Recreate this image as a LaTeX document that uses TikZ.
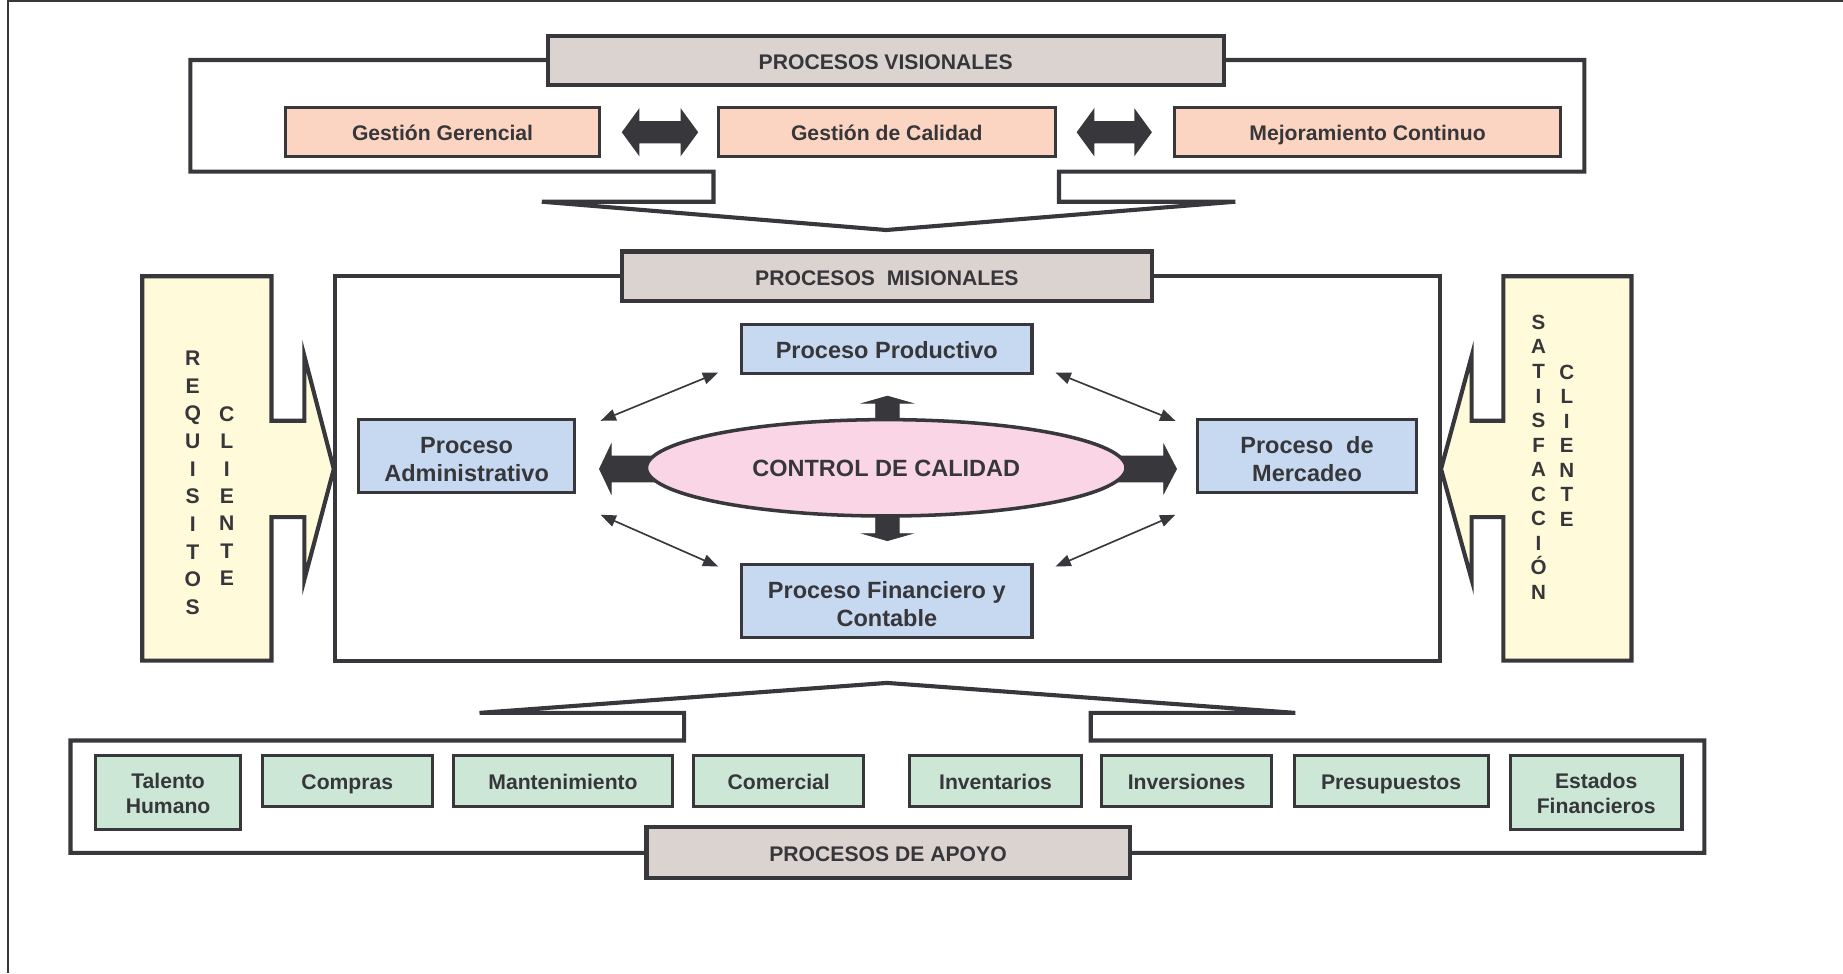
\documentclass[tikz,border=0pt]{standalone}
\usepackage{fontspec}
\setmainfont{Liberation Sans}
\usetikzlibrary{arrows.meta,shapes.geometric}

\definecolor{ink}{RGB}{56,56,60}
\definecolor{txt}{RGB}{55,55,59}
\definecolor{hdrfill}{RGB}{218,211,207}
\definecolor{peach}{RGB}{251,213,194}
\definecolor{sky}{RGB}{198,217,240}
\definecolor{mint}{RGB}{204,231,214}
\definecolor{cream}{RGB}{255,250,218}
\definecolor{rose}{RGB}{249,213,229}

% invisible rule that opens a little room above the first line of a box
\newcommand\firstlinegap[1]{\rule{0pt}{#1}}

\tikzset{
  base/.style={draw=ink, text=txt, inner sep=0pt, align=center},
  capsline/.style={text height=16pt, text depth=0pt},
  oneline/.style={text height=14.2pt, text depth=0pt},
  onelinebig/.style={text height=15.6pt, text depth=0pt},
  header/.style={base, capsline, fill=hdrfill, line width=3.5pt,
    font=\fontsize{18}{22}\selectfont\bfseries},
  visbox/.style={base, oneline, fill=peach, line width=2.6pt, minimum height=42pt,
    font=\fontsize{18}{22}\selectfont\bfseries},
  misbox/.style={base, fill=sky, line width=2.6pt,
    font=\fontsize{20}{24}\selectfont\bfseries},
  apobox/.style={base, fill=mint, line width=2.6pt,
    font=\fontsize{18}{21.5}\selectfont\bfseries},
  frameline/.style={draw=ink, line width=3.5pt, fill=white},
  sidearrow/.style={draw=ink, line width=3.5pt, fill=cream},
  blockarrow/.style={fill=ink, draw=ink, line width=0.6pt},
  thinlink/.style={draw=ink, line width=1.4pt,
    {Triangle[length=13pt,width=10pt]}-{Triangle[length=13pt,width=10pt]}},
  letters/.style={text=txt, inner sep=0pt, align=center},
}

\begin{document}
\begin{tikzpicture}[x=1pt,y=-1pt]
\useasboundingbox (0,0) rectangle (1568,828);

% page edge
\draw[ink, line width=2pt] (6.7,828) -- (6.7,0.3) -- (1568,0.3);

% ---------- visionary processes ----------
\draw[frameline] (162,51) -- (1348,51) -- (1348,146) -- (901,146) -- (901,171.6)
  -- (1051,171.6) -- (754,195.7) -- (461,171.6) -- (607,171.6) -- (607,146)
  -- (162,146) -- cycle;
\node[header, minimum width=575pt, minimum height=42pt] (vis) at (753.5,51.5)
  {PROCESOS VISIONALES};

\node[visbox, minimum width=267pt] (gg) at (376.5,112.5) {Gestión Gerencial};
\node[visbox, minimum width=287pt] (gc) at (754.5,112.5) {Gestión de Calidad};
\node[visbox, minimum width=329pt] (mc) at (1163.5,112.5) {Mejoramiento Continuo};

% double block arrows between the management boxes
\fill[ink] (529,112.5) -- (544,92) -- (544,103) -- (579,103) -- (579,92) -- (594,112.5)
  -- (579,133) -- (579,122) -- (544,122) -- (544,133) -- cycle;
\fill[ink] (916,112.5) -- (931,92) -- (931,103) -- (965,103) -- (965,92) -- (980,112.5)
  -- (965,133) -- (965,122) -- (931,122) -- (931,133) -- cycle;

% ---------- mission processes ----------
\draw[frameline] (285,235) rectangle (1225,562);

\draw[sidearrow] (121,235) -- (231,235) -- (231,358) -- (259,358) -- (259,303)
  -- (284,399) -- (259,493) -- (259,440) -- (231,440) -- (231,562) -- (121,562) -- cycle;
\draw[sidearrow] (1388,235) -- (1279,235) -- (1279,358) -- (1252,358) -- (1252,303)
  -- (1226,399) -- (1252,493) -- (1252,440) -- (1279,440) -- (1279,562) -- (1388,562) -- cycle;

\node[letters, font=\fontsize{18}{23.5}\selectfont\bfseries] (req) at (164,410.8)
  {R\\E\\Q\\U\\I\\S\\I\\T\\O\\S};
\node[letters, font=\fontsize{18}{23.3}\selectfont\bfseries] (cli1) at (193,422)
  {C\\L\\I\\E\\N\\T\\E};
\node[letters, font=\fontsize{17.5}{20.9}\selectfont\bfseries] (sat) at (1309,389)
  {S\\A\\T\\I\\S\\F\\A\\C\\C\\I\\Ó\\N};
\node[letters, font=\fontsize{17.5}{20.8}\selectfont\bfseries] (cli2) at (1333,379)
  {C\\L\\I\\E\\N\\T\\E};

\node[header, minimum width=451pt, minimum height=42pt] (mis) at (754.5,235)
  {PROCESOS\ \ MISIONALES};

\node[misbox, onelinebig, minimum width=247pt, minimum height=42pt] (prod) at (754.5,297)
  {Proceso Productivo};
\node[misbox, minimum width=184pt, minimum height=62pt] (adm) at (397,388)
  {\firstlinegap{20pt}Proceso\\Administrativo};
\node[misbox, minimum width=186pt, minimum height=62pt] (merc) at (1112,388)
  {\firstlinegap{20pt}Proceso\ \ de\\Mercadeo};
\node[misbox, minimum width=247pt, minimum height=62pt] (fin) at (754.5,511)
  {\firstlinegap{20pt}Proceso Financiero y\\Contable};

% block arrows leaving the quality-control ellipse
\fill[blockarrow] (745,362) -- (745,343) -- (734,343) -- (755,337) -- (776,343)
  -- (765,343) -- (765,362) -- cycle;
\fill[blockarrow] (745,436) -- (745,454) -- (734,454) -- (755,460) -- (776,454)
  -- (765,454) -- (765,436) -- cycle;
\fill[blockarrow] (562,388) -- (520,388) -- (520,378) -- (510,399) -- (520,420)
  -- (520,410) -- (562,410) -- cycle;
\fill[blockarrow] (948,388) -- (990,388) -- (990,378) -- (1001,399) -- (990,420)
  -- (990,410) -- (948,410) -- cycle;

\node[ellipse, draw=ink, fill=rose, line width=3pt, text=txt, inner sep=0pt,
  minimum width=408pt, minimum height=82pt, onelinebig,
  font=\fontsize{20}{24}\selectfont\bfseries] (cc) at (754,398) {CONTROL DE CALIDAD};

% links between the mission processes
\coordinate (l1a) at (511,358); \coordinate (l1b) at (611,317);
\coordinate (l2a) at (898,317); \coordinate (l2b) at (1000,358);
\coordinate (l3a) at (511,438); \coordinate (l3b) at (611,482);
\coordinate (l4a) at (1000,438); \coordinate (l4b) at (898,482);
\draw[thinlink] (l1a) -- (l1b);
\draw[thinlink] (l2a) -- (l2b);
\draw[thinlink] (l3a) -- (l3b);
\draw[thinlink] (l4a) -- (l4b);

% ---------- support processes ----------
\draw[frameline] (582,630) -- (582,606.5) -- (408,606.5) -- (754.6,581) -- (1102,606.5)
  -- (928,606.5) -- (928,630) -- (1450,630) -- (1450,725.6) -- (60,725.6) -- (60,630)
  -- cycle;

\node[apobox, minimum width=124pt, minimum height=62.5pt] (tal) at (143,674.3)
  {\firstlinegap{14pt}Talento\\Humano};
\node[apobox, oneline, minimum width=145pt, minimum height=43pt] (comp) at (295.5,664.5) {Compras};
\node[apobox, oneline, minimum width=186pt, minimum height=43pt] (mant) at (479,664.5) {Mantenimiento};
\node[apobox, oneline, minimum width=145pt, minimum height=43pt] (comer) at (662.5,664.5) {Comercial};
\node[apobox, oneline, minimum width=146pt, minimum height=43pt] (inv) at (847,664.5) {Inventarios};
\node[apobox, oneline, minimum width=145pt, minimum height=43pt] (inver) at (1009.5,664.5) {Inversiones};
\node[apobox, oneline, minimum width=165pt, minimum height=43pt] (pres) at (1183.5,664.5) {Presupuestos};
\node[apobox, minimum width=146pt, minimum height=62.5pt] (est) at (1358,674.3)
  {\firstlinegap{14pt}Estados\\Financieros};

\node[header, minimum width=411pt, minimum height=43pt] (apo) at (755.5,725.3)
  {PROCESOS DE APOYO};

\end{tikzpicture}
\end{document}
